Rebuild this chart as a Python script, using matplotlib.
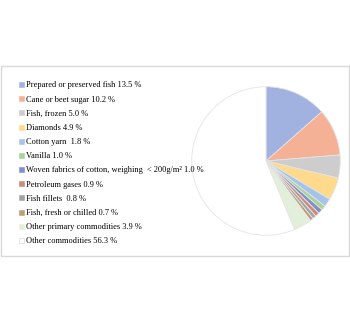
import matplotlib as mpl
mpl.use("Agg")
import matplotlib.pyplot as plt
from matplotlib.patches import Patch, Rectangle

mpl.rcParams["font.family"] = ["Liberation Serif", "DejaVu Serif"]

products = ["Prepared or preserved fish", "Cane or beet sugar", "Fish, frozen",
            "Diamonds", "Cotton yarn ", "Vanilla",
            "Woven fabrics of cotton, weighing  < 200g/m\u00b2",
            "Petroleum gases", "Fish fillets ", "Fish, fresh or chilled",
            "Other primary commodities", "Other commodities"]
shares = [13.5, 10.2, 5.0, 4.9, 1.8, 1.0, 1.0, 0.9, 0.8, 0.7, 3.9, 56.3]
colors = ["#A2B2E0", "#F5B196", "#CDCDCD", "#FFD98C", "#A6C3EC", "#A8D49A",
          "#8290C4", "#CC8A7A", "#A3A3A3", "#BE9E78", "#E2EFDA", "#FFFFFF"]

W, H = 350, 322
fig = plt.figure(figsize=(W / 100, H / 100), dpi=100)

# light frame around the chart area
fig.patches.append(Rectangle((0.5 / W, (H - 256) / H), (W - 1.5) / W, 190 / H,
                             transform=fig.transFigure, fill=False,
                             edgecolor="#D9D9D9", linewidth=1.0))

cx, cy, r = 266, H - 161, 75
ax = fig.add_axes([(cx - r) / W, (cy - r) / H, 2 * r / W, 2 * r / H])
ax.pie(shares, colors=colors, startangle=90, counterclock=False,
       wedgeprops=dict(edgecolor="#E4E4E4", linewidth=0.6))
ax.set_xlim(-1.01, 1.01)
ax.set_ylim(-1.01, 1.01)
ax.set_aspect("equal")

handles = [Patch(facecolor=c, edgecolor="#D0D0D0" if c == "#FFFFFF" else c, linewidth=0.4)
           for c in colors]
labels = [f"{p} {s:.1f} %" for p, s in zip(products, shares)]
fig.legend(handles, labels, loc="upper left", bbox_to_anchor=(19 / W, (H - 81.5) / H),
           frameon=False, fontsize=6, handlelength=0.55, handleheight=0.55,
           handletextpad=0.35, labelspacing=0.74, borderaxespad=0, borderpad=0)

fig.savefig("out.png", dpi=100)
